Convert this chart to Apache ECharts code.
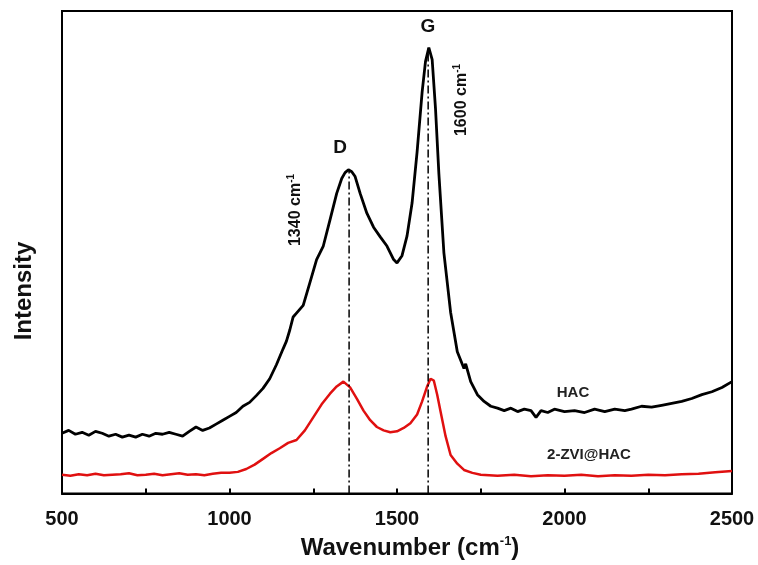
<!DOCTYPE html>
<html>
<head>
<meta charset="utf-8">
<script src="https://cdn.jsdelivr.net/npm/echarts@6/dist/echarts.min.js"></script>
<style>
  html, body { margin: 0; padding: 0; background: #fff; }
  #chart { width: 758px; height: 565px; }
</style>
</head>
<body>
<div id="chart"></div>
<script>
// Raman spectra, [wavenumber, intensity (arb.)]
const hacData = [
  [500, 12.5], [520, 13.1], [540, 12.3], [560, 12.7], [580, 12.1], [600, 12.9],
  [620, 12.5], [640, 11.9], [660, 12.3], [680, 11.7], [700, 12.1], [720, 11.7],
  [740, 12.3], [760, 11.9], [780, 12.5], [800, 12.3], [820, 12.7], [840, 12.3],
  [860, 11.9], [880, 12.9], [900, 13.8], [920, 13.1], [940, 13.6], [960, 14.4],
  [980, 15.2], [1000, 16.0], [1020, 16.8], [1040, 18.1], [1060, 18.9], [1080, 20.3],
  [1100, 21.8], [1120, 23.8], [1140, 26.7], [1160, 30.0], [1170, 31.6], [1180, 33.9],
  [1190, 36.6], [1200, 37.4], [1220, 39.0], [1240, 43.7], [1260, 48.5], [1280, 51.3],
  [1300, 56.7], [1320, 62.2], [1335, 65.3], [1345, 66.5], [1355, 67.1], [1365, 66.7],
  [1375, 65.7], [1390, 62.2], [1410, 58.1], [1430, 55.2], [1450, 53.2], [1470, 51.3],
  [1490, 48.5], [1500, 47.8], [1515, 49.3], [1530, 53.4], [1545, 60.2], [1560, 70.8],
  [1575, 83.2], [1585, 89.5], [1595, 92.4], [1605, 89.9], [1615, 79.7], [1625, 66.3],
  [1640, 49.9], [1660, 37.6], [1680, 29.4], [1700, 25.9], [1705, 26.9], [1720, 23.2],
  [1740, 20.5], [1760, 19.1], [1780, 18.1], [1800, 17.7], [1820, 17.2], [1840, 17.7],
  [1860, 17.0], [1880, 17.5], [1900, 17.2], [1915, 15.8], [1930, 17.2], [1950, 16.8],
  [1970, 17.5], [2000, 17.0], [2030, 17.2], [2060, 16.8], [2090, 17.5], [2120, 17.0],
  [2150, 17.5], [2180, 17.2], [2200, 17.5], [2230, 18.1], [2260, 17.9], [2290, 18.3],
  [2320, 18.7], [2350, 19.1], [2380, 19.7], [2410, 20.5], [2440, 21.1], [2470, 22.0],
  [2500, 23.2]
];

const zviData = [
  [500, 3.9], [525, 3.7], [550, 4.0], [575, 3.8], [600, 4.1], [625, 3.8],
  [650, 3.9], [675, 4.0], [700, 4.2], [725, 3.8], [750, 3.9], [775, 4.1],
  [800, 3.8], [825, 4.0], [850, 4.2], [875, 3.9], [900, 4.0], [925, 3.8],
  [950, 4.1], [975, 4.3], [1000, 4.3], [1025, 4.5], [1050, 5.1], [1075, 6.0],
  [1100, 7.2], [1125, 8.4], [1150, 9.4], [1175, 10.5], [1200, 11.1], [1225, 13.1],
  [1250, 15.8], [1275, 18.5], [1300, 20.7], [1320, 22.2], [1340, 23.2], [1360, 22.0],
  [1380, 19.7], [1400, 17.2], [1420, 15.2], [1440, 13.8], [1460, 13.1], [1480, 12.7],
  [1500, 12.9], [1520, 13.6], [1540, 14.6], [1560, 16.4], [1575, 19.1], [1590, 22.2],
  [1600, 23.8], [1610, 23.4], [1620, 20.5], [1630, 17.0], [1645, 11.9], [1660, 8.0],
  [1680, 6.2], [1700, 4.9], [1725, 4.3], [1750, 3.9], [1800, 3.7], [1850, 3.9],
  [1900, 3.6], [1950, 3.8], [2000, 3.7], [2050, 3.9], [2100, 3.6], [2150, 3.8],
  [2200, 3.7], [2250, 3.9], [2300, 3.8], [2350, 4.0], [2400, 4.1], [2450, 4.4],
  [2500, 4.7]
];

// dash-dot guides at the D and G band positions
const dLine = [[1357, 0], [1357, 67.1]];
const gLine = [[1593, 0], [1593, 92.4]];

const xTicks = [500, 1000, 1500, 2000, 2500];

const chart = echarts.init(document.getElementById('chart'));
const font = 'Liberation Sans, Arial, sans-serif';

const option = {
  backgroundColor: '#fff',
  animation: false,
  grid: {
    left: 62, right: 26, top: 11, bottom: 67,
    show: true, borderColor: '#000', borderWidth: 2
  },
  xAxis: {
    type: 'value',
    min: 500, max: 2500, interval: 250,
    name: 'Wavenumber (cm{sup|-1})',
    nameLocation: 'middle',
    nameGap: 37,
    nameTextStyle: {
      fontFamily: font, fontSize: 24, fontWeight: 'bold', color: '#111',
      padding: [0, 0, 0, 26],
      rich: { sup: { fontFamily: font, fontSize: 13, fontWeight: 'bold', color: '#111', verticalAlign: 'top', padding: [0, 0, 14, 0] } }
    },
    axisLine: { lineStyle: { color: '#000', width: 2 } },
    axisTick: { inside: true, length: 5, lineStyle: { color: '#000', width: 2 } },
    axisLabel: {
      margin: 16,
      fontFamily: font, fontSize: 20, fontWeight: 'bold', color: '#111',
      formatter: v => (xTicks.includes(v) ? String(v) : '')
    },
    splitLine: { show: false }
  },
  yAxis: {
    type: 'value',
    min: 0, max: 100,
    axisLine: { show: true, lineStyle: { color: '#000', width: 2 } },
    axisTick: { show: false },
    axisLabel: { show: false },
    splitLine: { show: false }
  },
  series: [
    {
      name: 'HAC', type: 'line', data: hacData, showSymbol: false,
      lineStyle: { color: '#000', width: 2.8 }, z: 3
    },
    {
      name: '2-ZVI@HAC', type: 'line', data: zviData, showSymbol: false,
      lineStyle: { color: '#e01010', width: 2.5 }, z: 3
    },
    {
      type: 'line', data: dLine, showSymbol: false, silent: true,
      lineStyle: { color: '#000', width: 1.5, type: [8, 3, 2, 3] }, z: 4
    },
    {
      type: 'line', data: gLine, showSymbol: false, silent: true,
      lineStyle: { color: '#000', width: 1.5, type: [8, 3, 2, 3] }, z: 4
    }
  ],
  graphic: [
    {
      type: 'text', x: 24, y: 291, rotation: Math.PI / 2,
      style: { text: 'Intensity', font: 'bold 24px ' + font, fill: '#111', align: 'center', verticalAlign: 'middle' }
    },
    {
      type: 'text', x: 340, y: 148,
      style: { text: 'D', font: 'bold 19px ' + font, fill: '#111', align: 'center', verticalAlign: 'middle' }
    },
    {
      type: 'text', x: 428, y: 27,
      style: { text: 'G', font: 'bold 19px ' + font, fill: '#111', align: 'center', verticalAlign: 'middle' }
    },
    {
      type: 'text', x: 296, y: 210, rotation: Math.PI / 2,
      style: {
        text: '1340 cm{sup|-1}', font: 'bold 16px ' + font, fill: '#111', align: 'center', verticalAlign: 'middle',
        rich: { sup: { font: 'bold 10px ' + font, fill: '#111', verticalAlign: 'top', padding: [0, 0, 10, 0] } }
      }
    },
    {
      type: 'text', x: 462, y: 100, rotation: Math.PI / 2,
      style: {
        text: '1600 cm{sup|-1}', font: 'bold 16px ' + font, fill: '#111', align: 'center', verticalAlign: 'middle',
        rich: { sup: { font: 'bold 10px ' + font, fill: '#111', verticalAlign: 'top', padding: [0, 0, 10, 0] } }
      }
    },
    {
      type: 'text', x: 573, y: 393,
      style: { text: 'HAC', font: 'bold 15px ' + font, fill: '#222', align: 'center', verticalAlign: 'middle' }
    },
    {
      type: 'text', x: 589, y: 455,
      style: { text: '2-ZVI@HAC', font: 'bold 15px ' + font, fill: '#222', align: 'center', verticalAlign: 'middle' }
    }
  ]
};

chart.setOption(option);
</script>
</body>
</html>
